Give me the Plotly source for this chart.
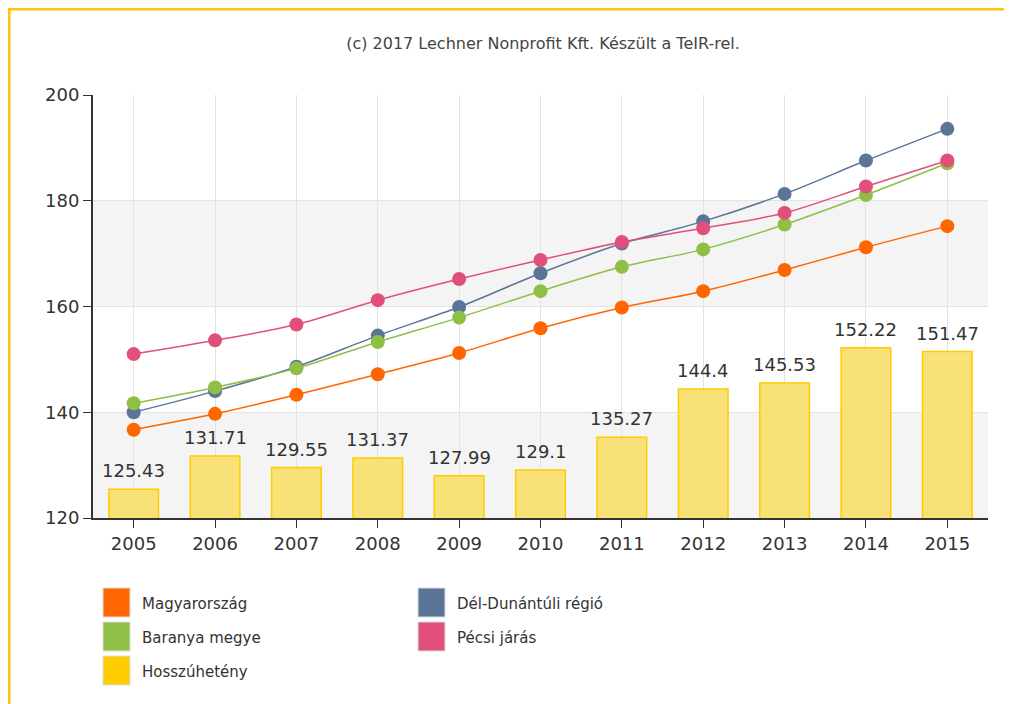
import plotly.graph_objects as go

years = ["2005", "2006", "2007", "2008", "2009", "2010", "2011", "2012", "2013", "2014", "2015"]
hosszuheteny = [125.43, 131.71, 129.55, 131.37, 127.99, 129.1, 135.27, 144.4, 145.53, 152.22, 151.47]
magyarorszag = [136.7, 139.7, 143.3, 147.2, 151.2, 155.9, 159.8, 162.9, 166.9, 171.2, 175.2]
del_dunantuli = [140.0, 144.0, 148.6, 154.5, 159.9, 166.3, 171.9, 176.1, 181.3, 187.6, 193.6]
baranya = [141.7, 144.7, 148.3, 153.3, 157.9, 162.9, 167.5, 170.8, 175.5, 181.1, 187.1]
pecsi = [151.0, 153.6, 156.6, 161.2, 165.2, 168.8, 172.2, 174.8, 177.7, 182.7, 187.6]

colors = {"Magyarország": "#ff6600", "Dél-Dunántúli régió": "#5b7599",
          "Baranya megye": "#8fbf44", "Pécsi járás": "#e0507a", "Hosszúhetény": "#ffcc00"}

FONT = "DejaVu Sans"
OFF = 8  # default page body margin

fig = go.Figure()

fig.add_trace(go.Bar(
    x=years, y=hosszuheteny, name="Hosszúhetény",
    marker=dict(color="rgba(248,224,112,0.95)", line=dict(color="#ffcc00", width=1.5)),
    showlegend=False))

for name, vals in [("Magyarország", magyarorszag), ("Dél-Dunántúli régió", del_dunantuli),
                   ("Baranya megye", baranya), ("Pécsi járás", pecsi)]:
    fig.add_trace(go.Scatter(
        x=years, y=vals, name=name, mode="lines+markers",
        line=dict(color=colors[name], width=1.5, shape="spline", smoothing=0.9),
        marker=dict(color=colors[name], size=14),
        showlegend=False))

# plot area in page pixels: x 93..988, y 95..518
L, T = 93 - OFF, 95 - OFF
R = 1012 - (988 - OFF)
B = 704 - (518 - OFF)
PW, PH = 1012 - L - R, 704 - T - B

def px(xp):
    return (xp - OFF - L) / PW

def py(yp):
    return (704 - B - (yp - OFF)) / PH

shapes = []
for y0, y1 in [(120, 140), (160, 180)]:
    shapes.append(dict(type="rect", xref="paper", yref="y", x0=0, x1=1, y0=y0, y1=y1,
                       fillcolor="#f4f4f4", line=dict(width=0), layer="below"))
# page border (top and left)
shapes.append(dict(type="line", xref="paper", yref="paper", x0=px(8), x1=px(1030), y0=py(9), y1=py(9),
                   line=dict(color="#ffc20e", width=3)))
shapes.append(dict(type="line", xref="paper", yref="paper", x0=px(9), x1=px(9), y0=py(8), y1=py(720),
                   line=dict(color="#ffc20e", width=3)))

annotations = []
# bar value labels (category index positions)
for i, v in enumerate(hosszuheteny):
    annotations.append(dict(x=i, y=v, xref="x", yref="y", text=str(v), showarrow=False,
                            yanchor="bottom", yshift=6,
                            font=dict(size=18, color="#333333", family=FONT)))

legend_layout = [("Magyarország", 103, 588), ("Dél-Dunántúli régió", 418, 588),
                 ("Baranya megye", 103, 622), ("Pécsi járás", 418, 622),
                 ("Hosszúhetény", 103, 656)]
for name, lx, ly in legend_layout:
    shapes.append(dict(type="rect", xref="paper", yref="paper",
                       x0=px(lx), x1=px(lx + 27), y0=py(ly), y1=py(ly + 29),
                       fillcolor=colors[name], line=dict(color="#dddddd", width=1)))
    annotations.append(dict(xref="paper", yref="paper", x=px(lx + 37), y=py(ly + 16),
                            text=name, showarrow=False, xanchor="left", yanchor="middle",
                            font=dict(size=15, color="#333333", family=FONT)))

fig.update_layout(
    width=1012, height=704,
    margin=dict(l=L, r=R, t=T, b=B),
    paper_bgcolor="white", plot_bgcolor="white",
    title=dict(text="(c) 2017 Lechner Nonprofit Kft. Készült a TeIR-rel.",
               xref="container", x=(543 - OFF) / 1012, xanchor="center",
               y=1 - (43 - OFF) / 704, yanchor="middle",
               font=dict(size=16, color="#444444", family=FONT)),
    bargap=0.39,
    shapes=shapes, annotations=annotations,
    font=dict(family=FONT),
    xaxis=dict(type="category", range=[-0.5, 10.5], showgrid=True, gridcolor="#e3e3e3",
               showline=True, linecolor="#333333", linewidth=2,
               ticks="outside", ticklen=8, tickcolor="#333333",
               tickfont=dict(size=18, color="#333333", family=FONT)),
    yaxis=dict(range=[120, 200], dtick=20, showgrid=True, gridcolor="#e3e3e3",
               showline=True, linecolor="#333333", linewidth=2, zeroline=False,
               ticks="outside", ticklen=8, tickcolor="#333333",
               tickfont=dict(size=18, color="#333333", family=FONT)),
)

fig.write_html("out.html")
